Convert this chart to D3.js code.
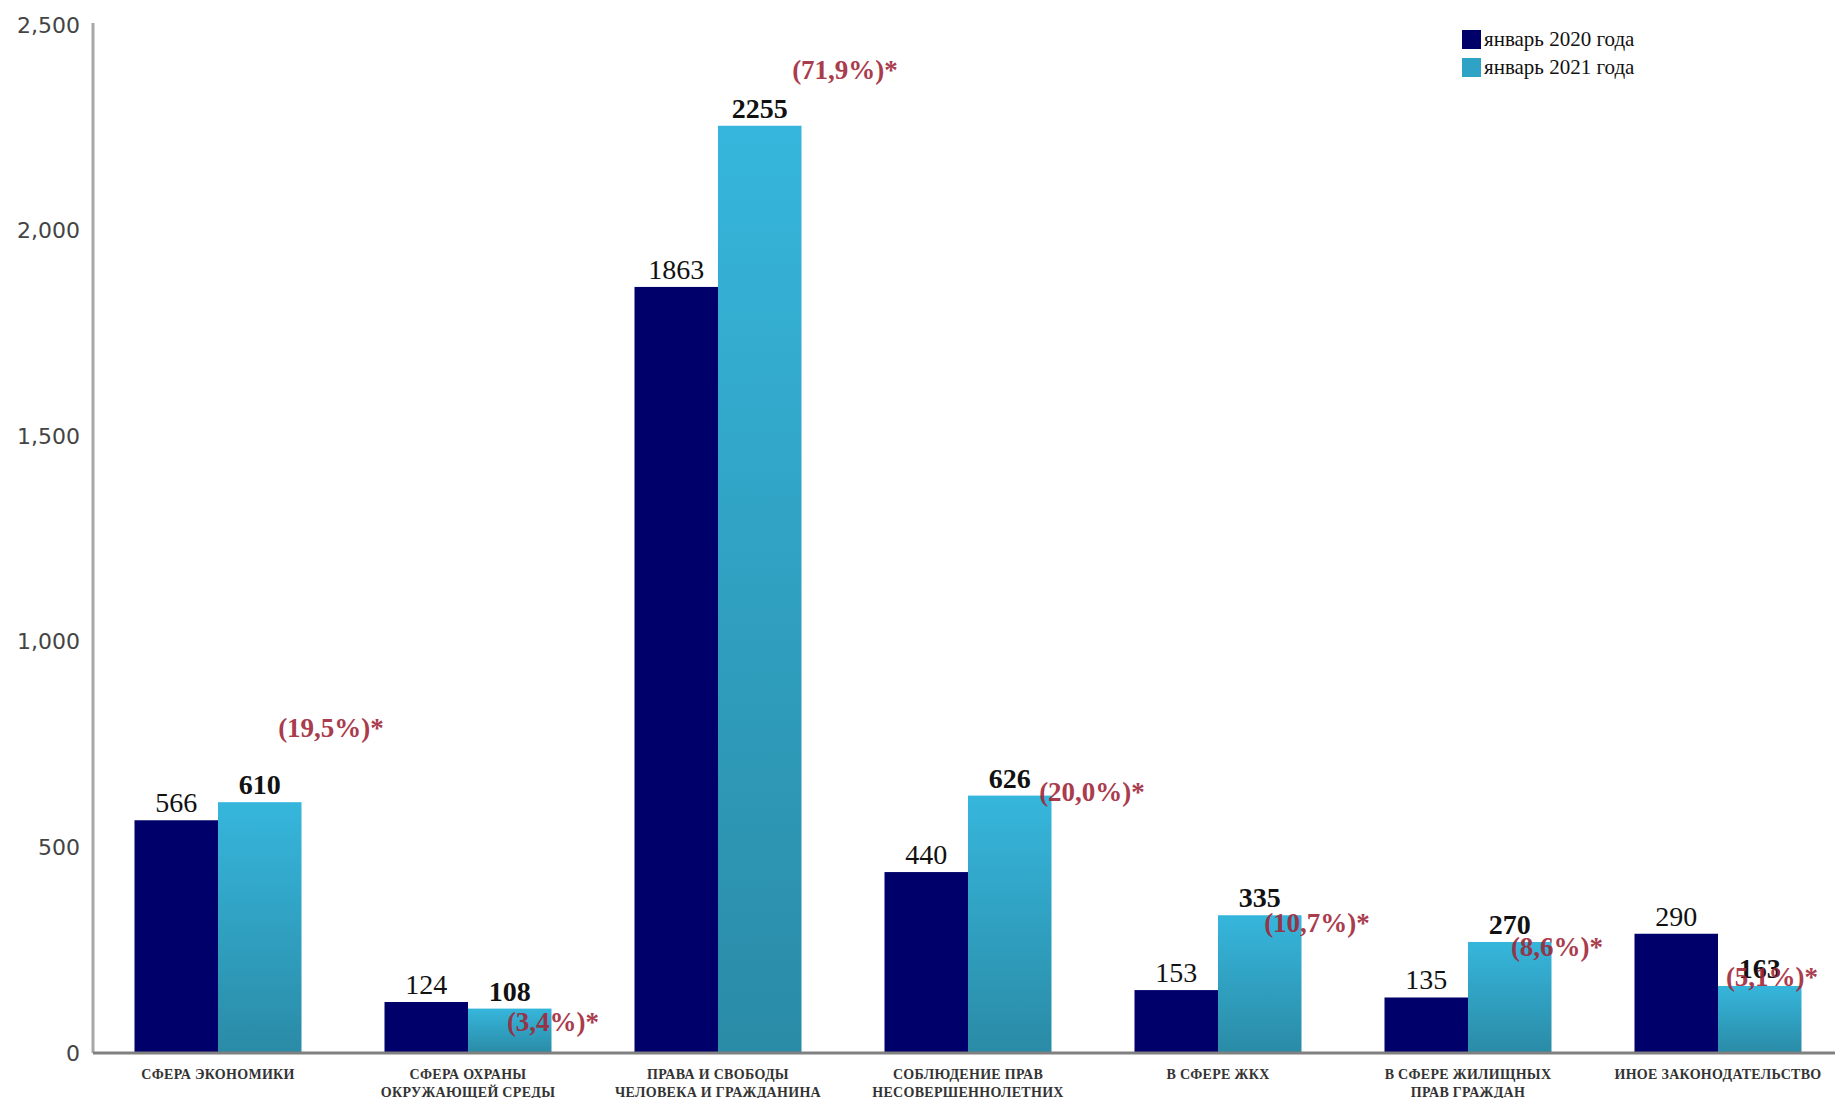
<!DOCTYPE html>
<html>
<head>
<meta charset="utf-8">
<script src="https://cdn.jsdelivr.net/npm/d3@7"></script>
<style>
  body { margin: 0; background: #fff; }
  svg { display: block; }
</style>
</head>
<body>
<script>
var categories = [
  ['СФЕРА ЭКОНОМИКИ'],
  ['СФЕРА ОХРАНЫ', 'ОКРУЖАЮЩЕЙ СРЕДЫ'],
  ['ПРАВА И СВОБОДЫ', 'ЧЕЛОВЕКА И ГРАЖДАНИНА'],
  ['СОБЛЮДЕНИЕ ПРАВ', 'НЕСОВЕРШЕННОЛЕТНИХ'],
  ['В СФЕРЕ ЖКХ'],
  ['В СФЕРЕ ЖИЛИЩНЫХ', 'ПРАВ ГРАЖДАН'],
  ['ИНОЕ ЗАКОНОДАТЕЛЬСТВО']
];
var series   = ['январь 2020 года', 'январь 2021 года'];
var jan2020  = [566, 124, 1863, 440, 153, 135, 290];
var jan2021  = [610, 108, 2255, 626, 335, 270, 163];
var shares   = ['(19,5%)*', '(3,4%)*', '(71,9%)*', '(20,0%)*', '(10,7%)*', '(8,6%)*', '(5,1%)*'];
var yTicks   = [0, 500, 1000, 1500, 2000, 2500];

// where the share notes sit: level on the value axis, shift from group centre
var shareLevel = [790, 75, 2390, 635, 316, 258, 185];
var shareShift = [113, 85, 127, 124, 99, 89, 54];

var
  width  = 1835,
  height = 1098,
  left   = 93,
  base   = 1053,
  topY   = 25,
  serif  = '"Liberation Serif", "Times New Roman", serif';

var svg = d3.select('body').append('svg')
  .attr('width', width)
  .attr('height', height);

var defs = svg.append('defs');
var grad = defs.append('linearGradient')
  .attr('id', 'light')
  .attr('x1', 0).attr('y1', 0).attr('x2', 0).attr('y2', 1);
grad.append('stop').attr('offset', '0%').attr('stop-color', '#36b6dc');
grad.append('stop').attr('offset', '100%').attr('stop-color', '#2a8ba6');

var keys = d3.range(categories.length);

var x = d3.scaleBand()
  .domain(keys)
  .range([left, left + 250 * categories.length])
  .padding(0);

var x1 = d3.scaleBand()
  .domain([0, 1])
  .range([41.5, 208.5])
  .padding(0);

var y = d3.scaleLinear()
  .domain([0, 2500])
  .range([base, topY]);

var fills = ['#00006a', 'url(#light)'];
var values = [jan2020, jan2021];

// bars
var groups = svg.selectAll('.grp')
  .data(keys)
  .enter().append('g')
  .attr('class', 'grp')
  .attr('transform', function (i) { return 'translate(' + x(i) + ',0)'; });

groups.selectAll('rect')
  .data(function (i) { return [0, 1].map(function (s) { return { s: s, v: values[s][i] }; }); })
  .enter().append('rect')
  .attr('x', function (d) { return x1(d.s); })
  .attr('y', function (d) { return y(d.v); })
  .attr('width', x1.bandwidth())
  .attr('height', function (d) { return base - y(d.v); })
  .attr('fill', function (d) { return fills[d.s]; });

// value labels
groups.selectAll('text.val')
  .data(function (i) { return [0, 1].map(function (s) { return { s: s, v: values[s][i] }; }); })
  .enter().append('text')
  .attr('class', 'val')
  .attr('x', function (d) { return x1(d.s) + x1.bandwidth() / 2; })
  .attr('y', function (d) { return y(d.v) - 8; })
  .attr('text-anchor', 'middle')
  .style('font-family', serif)
  .style('font-size', '28px')
  .style('font-weight', function (d) { return d.s ? 'bold' : 'normal'; })
  .style('fill', '#111')
  .text(function (d) { return d.v; });

// share notes
svg.selectAll('text.share')
  .data(keys)
  .enter().append('text')
  .attr('class', 'share')
  .attr('x', function (i) { return x(i) + x.bandwidth() / 2 + shareShift[i]; })
  .attr('y', function (i) { return y(shareLevel[i]) + 9; })
  .attr('text-anchor', 'middle')
  .style('font-family', serif)
  .style('font-size', '27px')
  .style('font-weight', 'bold')
  .style('fill', '#a0283a')
  .style('opacity', 0.9)
  .text(function (i) { return shares[i]; });

// y axis
var yAxis = d3.axisLeft(y)
  .tickValues(yTicks)
  .tickSize(0)
  .tickPadding(13)
  .tickFormat(d3.format(','));

var ya = svg.append('g')
  .attr('transform', 'translate(' + left + ',0)')
  .call(yAxis);
ya.select('.domain').attr('stroke', '#a8a8a8').attr('stroke-width', 3).attr('d', 'M0,' + (topY - 2) + 'V' + base);
ya.selectAll('text')
  .style('font-family', '"DejaVu Sans", Verdana, sans-serif')
  .style('font-size', '22px')
  .style('fill', '#444');

// x axis
var xAxis = d3.axisBottom(x).tickSize(0).tickFormat('');
var xa = svg.append('g')
  .attr('transform', 'translate(0,' + base + ')')
  .call(xAxis);
xa.select('.domain').attr('stroke', '#808080').attr('stroke-width', 3).attr('d', 'M' + left + ',0H' + width);

var cl = svg.selectAll('.cat')
  .data(keys)
  .enter().append('text')
  .attr('class', 'cat')
  .attr('text-anchor', 'middle')
  .style('font-family', serif)
  .style('font-size', '14px')
  .style('font-weight', 'bold')
  .style('letter-spacing', '0.3px')
  .style('fill', '#333');
cl.selectAll('tspan')
  .data(function (i) { return categories[i].map(function (t) { return { i: i, t: t }; }); })
  .enter().append('tspan')
  .attr('x', function (d) { return x(d.i) + x.bandwidth() / 2; })
  .attr('y', function (d, j) { return 1079 + j * 18; })
  .text(function (d) { return d.t; });

// legend
var lg = svg.append('g').attr('transform', 'translate(1462,30)');
var li = lg.selectAll('g')
  .data(series)
  .enter().append('g')
  .attr('transform', function (d, i) { return 'translate(0,' + i * 28 + ')'; });
li.append('rect')
  .attr('width', 19).attr('height', 19)
  .attr('fill', function (d, i) { return i ? '#2ea3c6' : '#00006a'; });
li.append('text')
  .attr('x', 22).attr('y', 16)
  .style('font-family', serif)
  .style('font-size', '21px')
  .style('fill', '#111')
  .text(function (d) { return d; });
</script>
</body>
</html>
